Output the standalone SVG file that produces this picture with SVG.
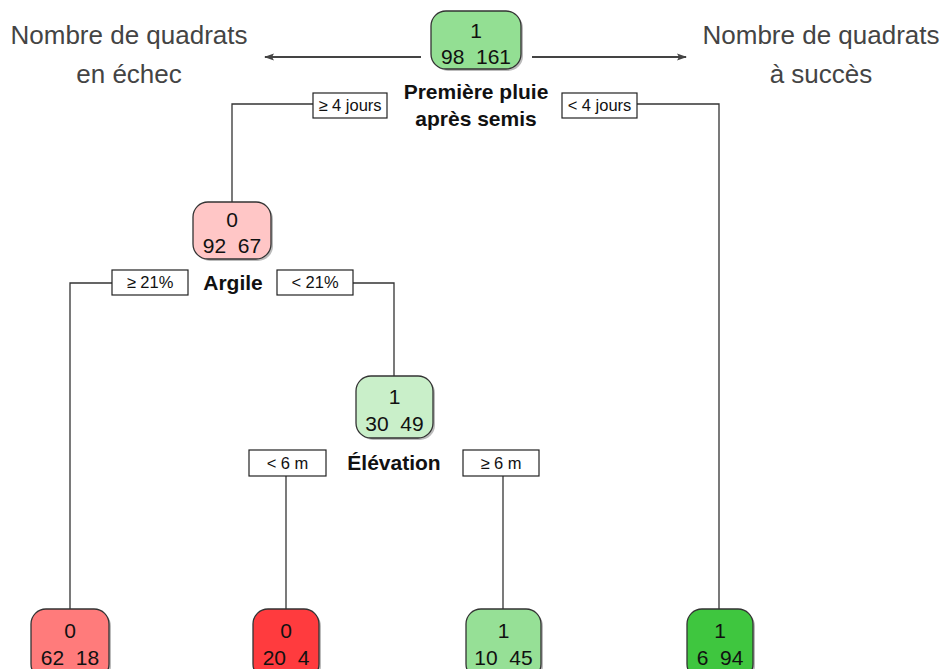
<svg xmlns="http://www.w3.org/2000/svg" width="943" height="669" viewBox="0 0 943 669">
<style>
.node{stroke:#333;stroke-width:1.3}
.sh{fill:#bbb}
.nt{font-family:"Liberation Sans",Arial,sans-serif;font-size:21px;fill:#111;text-anchor:middle}
.split{font-family:"Liberation Sans",Arial,sans-serif;font-size:21px;font-weight:bold;fill:#111;text-anchor:middle}
.lb{fill:#fff;stroke:#222;stroke-width:1.2}
.lt{font-family:"Liberation Sans",Arial,sans-serif;font-size:16.5px;fill:#111;text-anchor:middle}
.edge{fill:none;stroke:#333;stroke-width:1.3}
.title{font-family:"Liberation Sans",Arial,sans-serif;font-size:26px;fill:#444;text-anchor:middle}
.arr{stroke:#444;stroke-width:1.8;fill:none}
</style>
<defs>
<marker id="ah" viewBox="0 0 10 10" refX="9" refY="5" markerWidth="11" markerHeight="10" markerUnits="userSpaceOnUse" orient="auto">
<path d="M0,1.5 L10,5 L0,8.5 L2,5 Z" fill="#444"/>
</marker>
</defs>

<g id="titles">
<text class="title" x="129" y="44">Nombre de quadrats</text>
<text class="title" x="129" y="83">en échec</text>
<text class="title" x="821" y="44">Nombre de quadrats</text>
<text class="title" x="821" y="83">à succès</text>
<line class="arr" x1="421" y1="57" x2="265" y2="57" marker-end="url(#ah)"/>
<line class="arr" x1="532" y1="57" x2="686" y2="57" marker-end="url(#ah)"/>
</g>

<g id="connectors">
<path class="edge" d="M313,104 H232 V202"/>
<path class="edge" d="M637,104 H719 V609"/>
<path class="edge" d="M112,283 H70 V609"/>
<path class="edge" d="M353,283 H394 V376"/>
<path class="edge" d="M286,476 V609"/>
<path class="edge" d="M503,476 V609"/>
</g>

<g id="node-root">
<rect class="sh" x="433" y="13" width="90" height="58" rx="15"/>
<rect class="node" x="431" y="11" width="90" height="58" rx="15" fill="#93df93"/>
<text class="nt" x="476" y="38">1</text>
<text class="nt" x="476" y="64" xml:space="preserve">98  161</text>
<text class="split" x="476" y="99">Première pluie</text>
<text class="split" x="476" y="126">après semis</text>
</g>

<g id="label-ge4">
<rect class="lb" x="313" y="93" width="74" height="25"/>
<text class="lt" x="350" y="111">≥ 4 jours</text>
</g>
<g id="label-lt4">
<rect class="lb" x="562" y="93" width="75" height="25"/>
<text class="lt" x="599.5" y="111">&lt; 4 jours</text>
</g>

<g id="node-argile">
<rect class="sh" x="195" y="204" width="78" height="57" rx="15"/>
<rect class="node" x="193" y="202" width="78" height="57" rx="15" fill="#ffc6c6"/>
<text class="nt" x="232" y="227">0</text>
<text class="nt" x="232" y="253" xml:space="preserve">92  67</text>
<text class="split" x="233" y="290">Argile</text>
</g>

<g id="label-ge21">
<rect class="lb" x="112" y="270" width="76" height="25"/>
<text class="lt" x="150" y="288">≥ 21%</text>
</g>
<g id="label-lt21">
<rect class="lb" x="277" y="270" width="76" height="25"/>
<text class="lt" x="315" y="288">&lt; 21%</text>
</g>

<g id="node-elevation">
<rect class="sh" x="358" y="378" width="77" height="62" rx="15"/>
<rect class="node" x="356" y="376" width="77" height="62" rx="15" fill="#c9efc9"/>
<text class="nt" x="394.5" y="404">1</text>
<text class="nt" x="394.5" y="431" xml:space="preserve">30  49</text>
<text class="split" x="394" y="470">Élévation</text>
</g>

<g id="label-lt6">
<rect class="lb" x="249" y="450" width="77" height="26"/>
<text class="lt" x="287.5" y="469">&lt; 6 m</text>
</g>
<g id="label-ge6">
<rect class="lb" x="463" y="450" width="76" height="26"/>
<text class="lt" x="501" y="469">≥ 6 m</text>
</g>

<g id="leaf-1">
<rect class="sh" x="33" y="611" width="78" height="70" rx="15"/>
<rect class="node" x="31" y="609" width="78" height="70" rx="15" fill="#ff7b7b"/>
<text class="nt" x="70" y="638">0</text>
<text class="nt" x="70" y="665" xml:space="preserve">62  18</text>
</g>

<g id="leaf-2">
<rect class="sh" x="255" y="611" width="66" height="70" rx="15"/>
<rect class="node" x="253" y="609" width="66" height="70" rx="15" fill="#ff3b3e"/>
<text class="nt" x="286" y="638">0</text>
<text class="nt" x="286" y="665" xml:space="preserve">20  4</text>
</g>

<g id="leaf-3">
<rect class="sh" x="468" y="611" width="75" height="70" rx="15"/>
<rect class="node" x="466" y="609" width="75" height="70" rx="15" fill="#96e096"/>
<text class="nt" x="503.5" y="638">1</text>
<text class="nt" x="503.5" y="665" xml:space="preserve">10  45</text>
</g>

<g id="leaf-4">
<rect class="sh" x="689" y="611" width="66" height="70" rx="15"/>
<rect class="node" x="687" y="609" width="66" height="70" rx="15" fill="#3fc63f"/>
<text class="nt" x="720" y="638">1</text>
<text class="nt" x="720" y="665" xml:space="preserve">6  94</text>
</g>
</svg>
